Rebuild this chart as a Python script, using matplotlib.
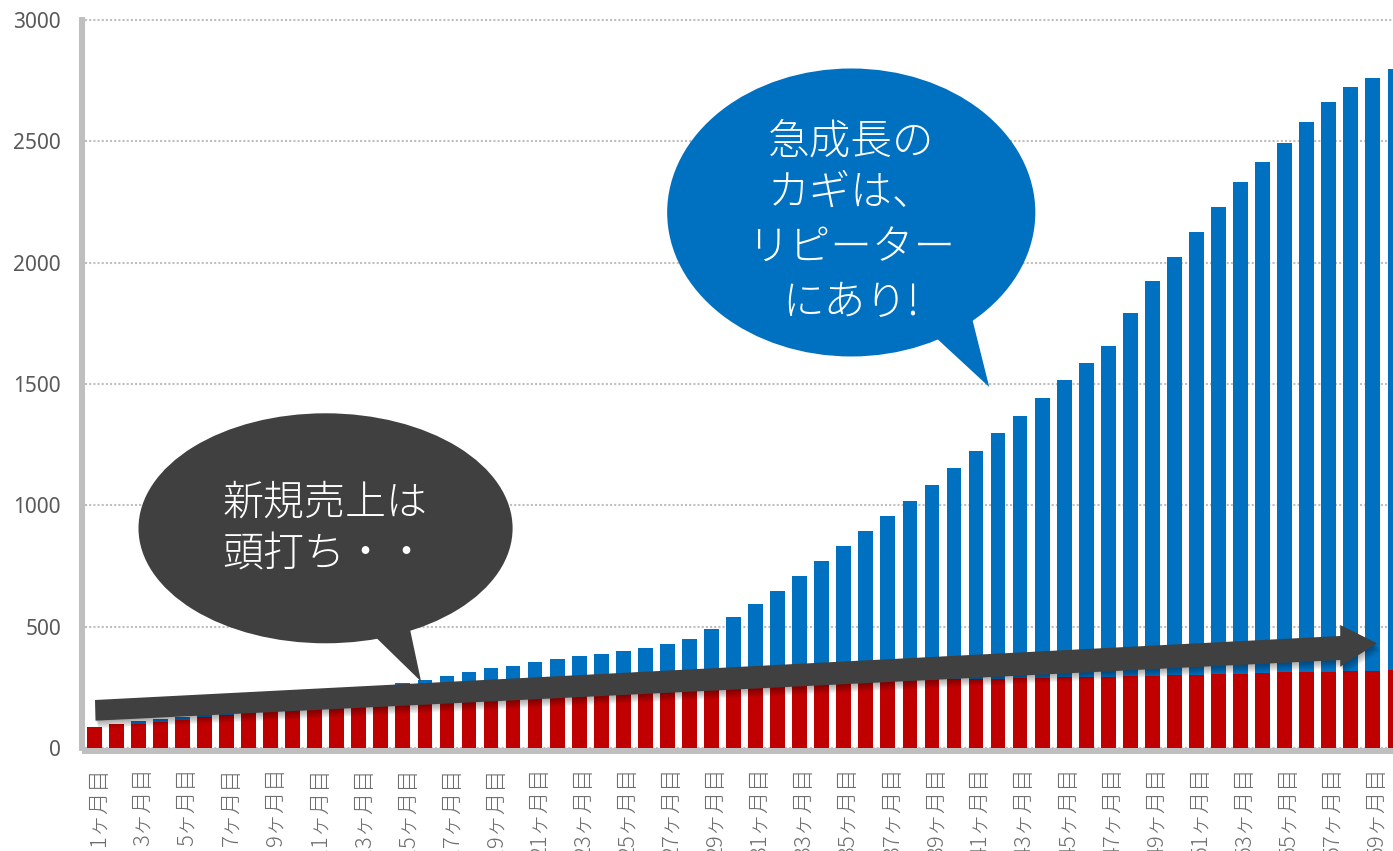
import numpy as np
import matplotlib
matplotlib.use("Agg")
import matplotlib.pyplot as plt
from matplotlib.patches import Ellipse, Polygon
import matplotlib.transforms as mtransforms

plt.rcParams['font.family'] = ['Noto Sans CJK JP', 'DejaVu Sans']

# ---------------- data ----------------
months = list(range(1, 61))
month_labels = [f"{m}ヶ月目" for m in months]

new_sales = [88, 98, 98, 106, 117, 129, 136, 148, 157, 165,
             172, 179, 186, 192, 198, 203, 208, 213, 218, 222,
             226, 230, 234, 238, 241, 244, 247, 250, 253, 256,
             259, 262, 265, 268, 271, 274, 277, 280, 281, 283,
             284, 286, 288, 290, 291, 293, 294, 295, 298, 299,
             302, 303, 306, 309, 312, 313, 313, 317, 317, 321]

total_sales = [88, 98, 110, 118, 127, 140, 152, 165, 178, 191,
               205, 220, 234, 249, 267, 280, 298, 312, 329, 338,
               353, 365, 379, 387, 401, 414, 427, 448, 489, 541,
               593, 647, 709, 769, 831, 894, 955, 1016, 1082, 1152,
               1224, 1298, 1368, 1443, 1515, 1585, 1658, 1791, 1923, 2024,
               2125, 2230, 2332, 2416, 2495, 2578, 2663, 2723, 2763, 2797]

repeat_sales = list(np.array(total_sales) - np.array(new_sales))

y_ticks = [0, 500, 1000, 1500, 2000, 2500, 3000]

note_new = ["新規売上は", "頭打ち・・"]
note_repeat = ["急成長の", "カギは、", "リピーター", "にあり!"]

# ---------------- figure ----------------
W, H = 1393, 851
fig = plt.figure(figsize=(W / 100, H / 100), dpi=100)
ax = fig.add_axes([85 / W, 103 / H, (W - 85) / W, 728 / H])

RED = '#C00000'
BLUE = '#0070C0'
DARK = '#404040'

ax.bar(months, new_sales, width=0.667, color=RED, zorder=2)
ax.bar(months, repeat_sales, bottom=new_sales, width=0.667, color=BLUE, zorder=2)

ax.set_xlim(0.583, 59.914)
ax.set_ylim(0, 3000)

for s in ['top', 'right']:
    ax.spines[s].set_visible(False)
for s in ['left', 'bottom']:
    ax.spines[s].set_color('#BFBFBF')
    ax.spines[s].set_linewidth(4.3)
    ax.spines[s].set_position(('outward', 2.2))

ax.set_yticks(y_ticks)
ax.set_yticklabels([str(v) for v in y_ticks], fontfamily='Noto Sans',
                   fontsize=15, color='#595959')
ax.set_xticks(months[::2])
ax.set_xticklabels(month_labels[::2], rotation=90, fontsize=16,
                   color='#6e6e6e', fontweight='light')
ax.tick_params(axis='both', length=0)
ax.tick_params(axis='y', pad=15)
ax.tick_params(axis='x', pad=12)
off = mtransforms.ScaledTranslation(5 / 100, 0, fig.dpi_scale_trans)
for lbl in ax.get_xticklabels():
    lbl.set_transform(lbl.get_transform() + off)

ax.set_axisbelow(True)
ax.yaxis.grid(True, color='#BFBFBF', linestyle=(0, (1, 1)), linewidth=1.5)
for gl in ax.get_ygridlines():
    gl.set_clip_on(False)

# ---------------- arrow (trend of new sales) ----------------
arrow_xy = [(1.036, 197.8), (57.52, 461.6), (57.52, 506.9), (59.19, 431.5),
            (57.52, 335.0), (57.52, 362.6), (1.06, 112.5)]
for k in range(1, 9):
    tr = mtransforms.offset_copy(ax.transData, fig=fig, x=0.4 * k, y=-1.0 * k,
                                 units='dots')
    ax.add_patch(Polygon(arrow_xy, closed=True, facecolor='black',
                         edgecolor='none', alpha=0.045, transform=tr, zorder=4))
ax.add_patch(Polygon(arrow_xy, closed=True, facecolor=DARK, edgecolor='none',
                     zorder=5))

# ---------------- speech balloons ----------------
ax.add_patch(Ellipse((11.494, 905.4), 16.97, 947.8, facecolor=DARK,
                     edgecolor='none', zorder=6))
ax.add_patch(Polygon([(13.128, 513.1), (15.192, 546.0), (15.828, 274.0)],
                     closed=True, facecolor=DARK, edgecolor='none', zorder=6))

ax.add_patch(Ellipse((35.34, 2206.8), 16.70, 1186.8, facecolor=BLUE,
                     edgecolor='none', zorder=6))
ax.add_patch(Polygon([(38.709, 1730.4), (40.646, 1833.8), (41.599, 1487.7)],
                     closed=True, facecolor=BLUE, edgecolor='none', zorder=6))

for txt, y in zip(note_new, [1010, 797]):
    ax.text(11.47, y, txt, ha='center', va='center', fontsize=29.5,
            color='white', fontweight='light', zorder=7)

for txt, y in zip(note_repeat, [2500, 2285, 2058, 1834]):
    ax.text(35.34, y, txt, ha='center', va='center', fontsize=30,
            color='white', fontweight='light', zorder=7)

fig.savefig('out.png', dpi=100)
